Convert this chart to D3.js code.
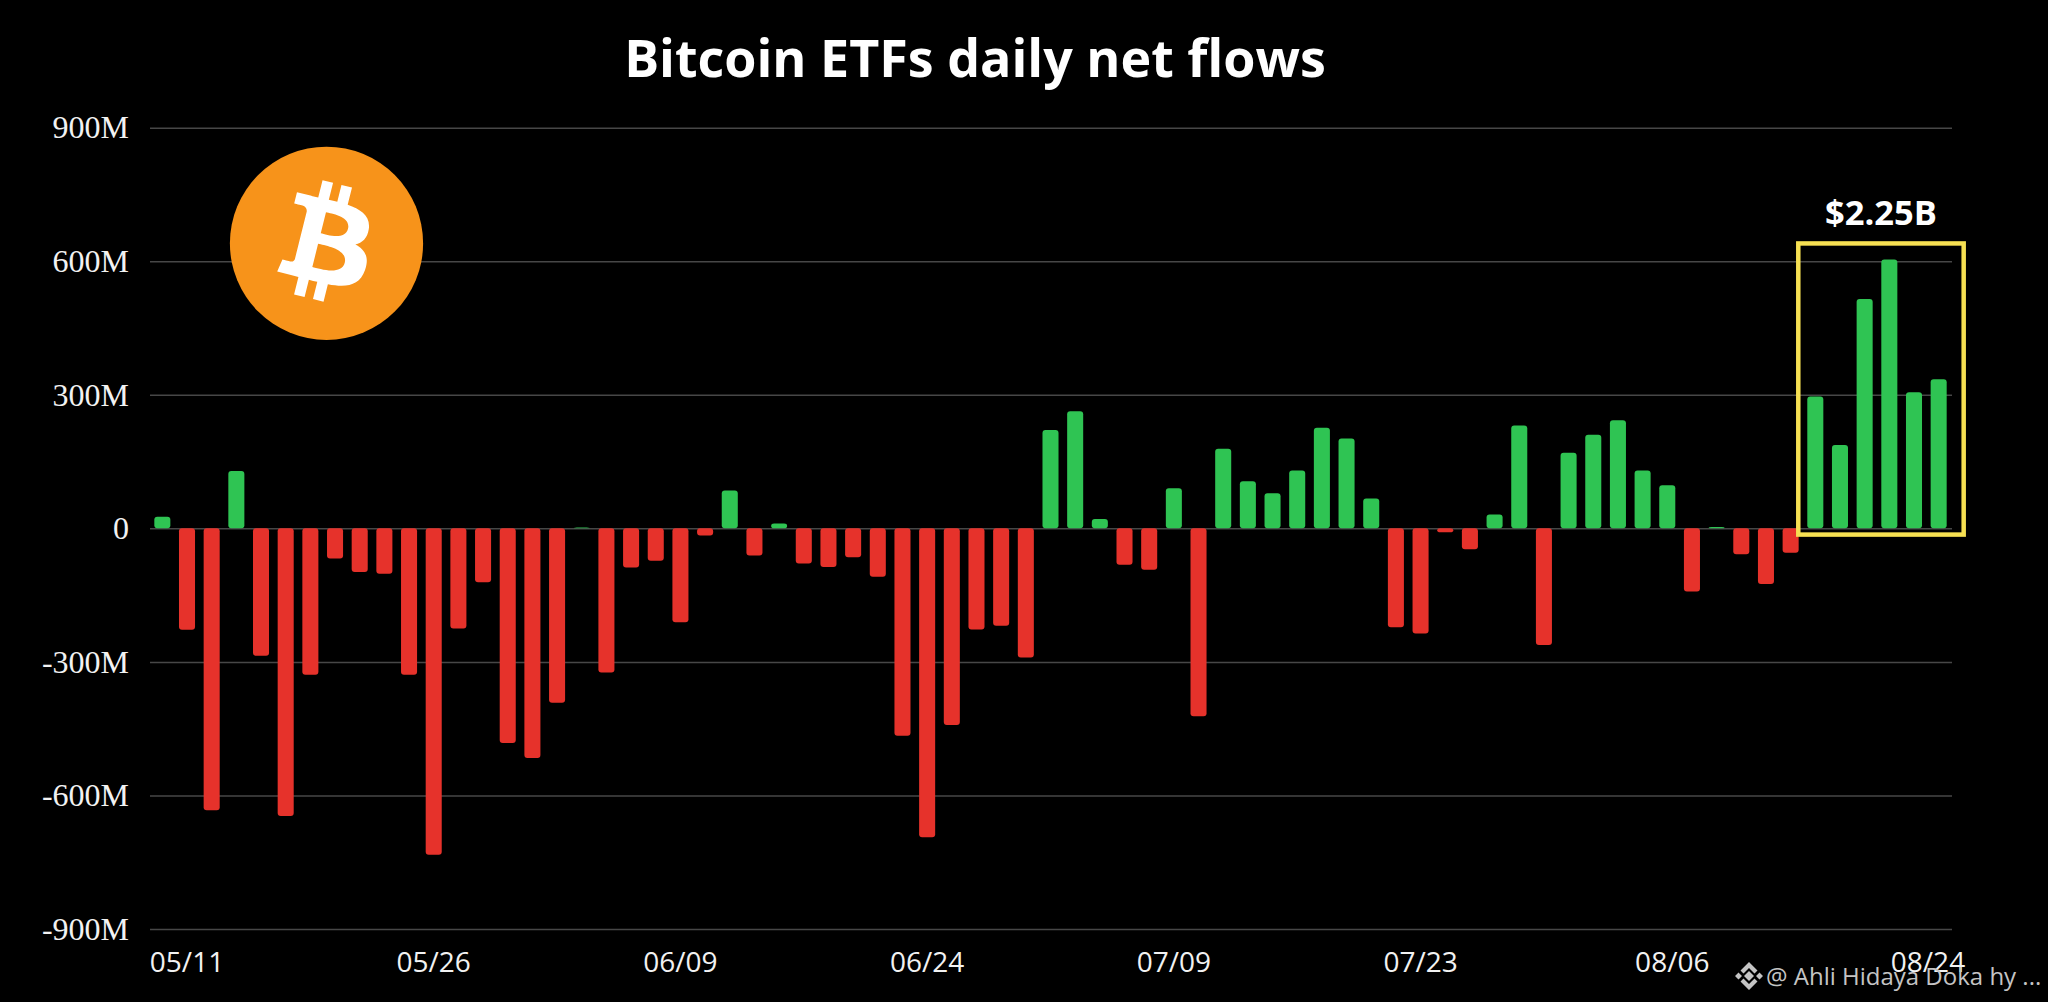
<!DOCTYPE html>
<html>
<head>
<meta charset="utf-8">
<script src="https://cdn.jsdelivr.net/npm/d3@7"></script>
<style>
  html, body { margin: 0; padding: 0; background: #000; overflow: hidden; }
  svg { display: block; }
</style>
</head>
<body>
<svg id="svg" width="2048" height="1002"></svg>
<script>
/* globals d3 */

// daily net flows in $M
var flows = [
  26, -228, -633, 129, -286, -646, -329, -68, -98, -102,
  -329, -733, -225, -121, -482, -516, -392, 2, -324, -88,
  -73, -211, -16, 85, -61, 11, -79, -87, -65, -109,
  -466, -694, -442, -227, -219, -290, 221, 263, 21, -82,
  -93, 90, -422, 179, 106, 79, 130, 226, 202, 67,
  -222, -236, -9, -47, 31, 231, -262, 170, 210, 243,
  130, 97, -142, 3, -58, -125, -55, 296, 187, 515,
  604, 306, 335
];

var yTicks = [900, 600, 300, 0, -300, -600, -900];
var yTickLabels = ['900M', '600M', '300M', '0', '-300M', '-600M', '-900M'];

var xTicks = [1, 11, 21, 31, 41, 51, 61, 71];
var xTickLabels = ['05/11', '05/26', '06/09', '06/24', '07/09', '07/23', '08/06', '08/24'];

var highlightFrom = 67;
var highlightTo = 72;

var titleText = 'Bitcoin ETFs daily net flows';
var highlightText = '$2.25B';
var watermarkText = '@ Ahli Hidaya Doka hy ...';

var BTC_PATH = 'M46.103 27.444c.637-4.258-2.605-6.547-7.038-8.074l1.438-5.768-3.511-.875-1.4 5.616c-.923-.23-1.871-.447-2.813-.662l1.41-5.653-3.509-.875-1.439 5.766c-.764-.174-1.514-.346-2.242-.527l.004-.018-4.842-1.209-.934 3.75s2.605.597 2.55.634c1.422.355 1.679 1.296 1.636 2.042l-1.638 6.571c.098.025.225.061.365.117l-.371-.092-2.296 9.205c-.174.432-.615 1.08-1.609.834.035.051-2.552-.637-2.552-.637l-1.743 4.019 4.569 1.139c.85.213 1.683.436 2.503.646l-1.453 5.834 3.507.875 1.439-5.772c.958.26 1.888.5 2.798.726l-1.434 5.745 3.511.875 1.453-5.823c5.987 1.133 10.489.676 12.384-4.739 1.527-4.36-.076-6.875-3.226-8.515 2.294-.529 4.022-2.038 4.483-5.155zm-8.022 11.249c-1.085 4.36-8.426 2.003-10.806 1.412l1.928-7.729c2.38.594 10.012 1.77 8.878 6.317zm1.086-11.312c-.99 3.966-7.1 1.951-9.082 1.457l1.748-7.01c1.982.494 8.365 1.416 7.334 5.553z';

var svg = d3.select('svg');

var x = d3.scaleBand()
  .domain(d3.range(flows.length))
  .range([150, 1951])
  .paddingInner(0.35)
  .paddingOuter(0.175);

var y = d3.scaleLinear()
  .domain([-900, 900])
  .range([929, 127.7]);

/* GRID + Y LABELS */
var yAxis = d3.axisLeft(y)
  .tickValues(yTicks)
  .tickSize(-1802)
  .tickPadding(21)
  .tickFormat(function(d, i) { return yTickLabels[i]; });

var yGroup = svg.append('g')
  .attr('transform', 'translate(150,0)')
  .call(yAxis);

yGroup.select('.domain').remove();
yGroup.selectAll('line').attr('stroke', '#474747').attr('stroke-width', 1.5);
yGroup.selectAll('text')
  .attr('fill', '#f2f2f2')
  .style('font-family', '"Liberation Serif", serif')
  .style('font-size', '32px');

/* BITCOIN LOGO */
var logo = svg.append('g').attr('transform', 'translate(326.5,243.3)');
logo.append('circle').attr('r', 96.6).attr('fill', '#f7931a');
logo.append('path')
  .attr('d', BTC_PATH)
  .attr('fill', '#fff')
  .attr('transform', 'scale(3) translate(-32,-32.2)');

/* BARS */
svg.append('g').selectAll('rect').data(flows).enter().append('rect')
  .attr('x', function(d, i) { return x(i); })
  .attr('width', x.bandwidth())
  .attr('y', function(d) { return Math.min(y(d), y(0)); })
  .attr('height', function(d) { return Math.abs(y(d) - y(0)); })
  .attr('rx', 3)
  .attr('fill', function(d) { return d >= 0 ? '#2fc453' : '#e6322b'; });

/* X LABELS */
var xAxis = d3.axisBottom(x)
  .tickValues(xTicks)
  .tickSize(0)
  .tickPadding(0)
  .tickFormat(function(d, i) { return xTickLabels[i]; });

var xGroup = svg.append('g')
  .attr('transform', 'translate(0,972)')
  .call(xAxis);

xGroup.select('.domain').remove();
xGroup.selectAll('text')
  .attr('y', 0)
  .attr('dy', 0)
  .attr('fill', '#f2f2f2')
  .style('font-family', '"Open Sans", sans-serif')
  .style('font-size', '28px');
// the last two labels sit a little right of their bars in the original
xGroup.selectAll('text').filter(function(d) { return d == 61; }).attr('dx', 5);
xGroup.selectAll('text').filter(function(d) { return d == 71; }).attr('dx', 14);

/* TITLE */
svg.append('text')
  .attr('x', 975)
  .attr('y', 77)
  .attr('text-anchor', 'middle')
  .attr('fill', '#fff')
  .style('font-family', '"Open Sans", sans-serif')
  .style('font-weight', 700)
  .style('font-size', '52px')
  .text(titleText);

/* HIGHLIGHT BOX */
var boxLeft = x(highlightFrom) - 9;
var boxRight = x(highlightTo) + x.bandwidth() + 17;

svg.append('rect')
  .attr('x', boxLeft)
  .attr('y', y(640))
  .attr('width', boxRight - boxLeft)
  .attr('height', y(-14) - y(640))
  .attr('fill', 'none')
  .attr('stroke', '#f6e052')
  .attr('stroke-width', 4.5);

svg.append('text')
  .attr('x', (boxLeft + boxRight) / 2)
  .attr('y', 225)
  .attr('text-anchor', 'middle')
  .attr('fill', '#fff')
  .style('font-family', '"Open Sans", sans-serif')
  .style('font-weight', 700)
  .style('font-size', '34.500px')
  .text(highlightText);

/* WATERMARK */
var mark = svg.append('g')
  .attr('transform', 'translate(1749,976)')
  .attr('fill', '#c4c4c4');
mark.append('path').attr('d', 'M0-5 5 0 0 5-5 0Z');
mark.append('path').attr('d', 'M-14 0-10.500-3.500-7 0-10.500 3.500ZM14 0 10.500-3.500 7 0 10.500 3.500Z');
mark.append('path').attr('d', 'M0-14 8.500-5.500 5.500-2.500 0-8-5.500-2.500-8.500-5.500ZM0 14 8.500 5.500 5.500 2.500 0 8-5.500 2.500-8.500 5.500Z');

svg.append('text')
  .attr('x', 1766)
  .attr('y', 985)
  .attr('fill', '#c4c4c4')
  .style('font-family', '"Open Sans", sans-serif')
  .style('font-size', '24px')
  .text(watermarkText);
</script>
</body>
</html>
